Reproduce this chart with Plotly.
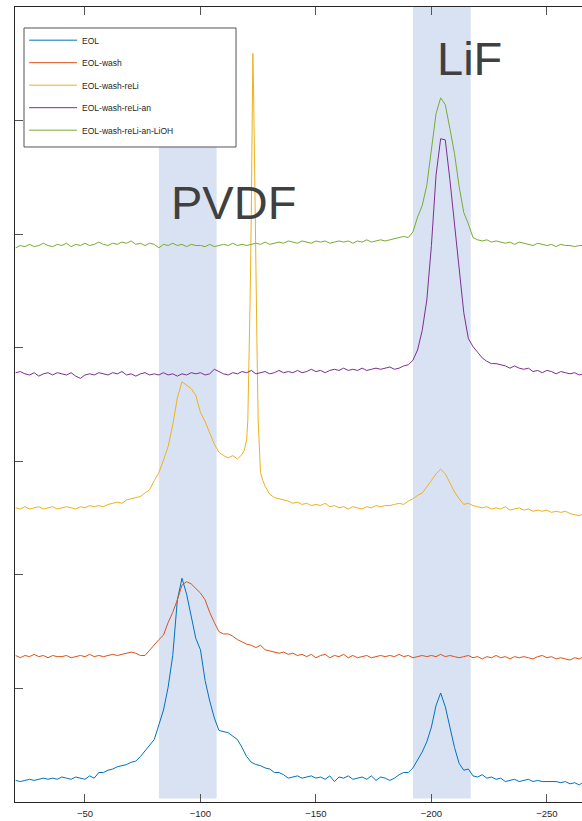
import plotly.graph_objects as go

# Chemical shift grid (ppm), step 2
X = [-20 - 2 * i for i in range(124)]

eol = [
    0.19, 0.18, 0.19, 0.20, 0.19, 0.20, 0.21, 0.20, 0.21, 0.20,
    0.22, 0.21, 0.20, 0.22, 0.21, 0.20, 0.23, 0.21, 0.26, 0.26,
    0.28, 0.29, 0.31, 0.32, 0.33, 0.35, 0.36, 0.40, 0.45, 0.50,
    0.55, 0.68, 0.81, 1.01, 1.29, 1.78, 1.97, 1.83, 1.65, 1.44,
    1.34, 1.07, 0.89, 0.74, 0.63, 0.62, 0.61, 0.58, 0.55, 0.48,
    0.40, 0.35, 0.33, 0.32, 0.30, 0.29, 0.26, 0.26, 0.24, 0.21,
    0.22, 0.23, 0.21, 0.22, 0.23, 0.21, 0.22, 0.20, 0.23, 0.18,
    0.22, 0.21, 0.23, 0.20, 0.21, 0.22, 0.20, 0.23, 0.19, 0.22,
    0.21, 0.19, 0.21, 0.24, 0.26, 0.26, 0.30, 0.37, 0.44, 0.53,
    0.66, 0.85, 0.96, 0.84, 0.66, 0.48, 0.34, 0.28, 0.29, 0.23,
    0.22, 0.24, 0.21, 0.22, 0.20, 0.21, 0.18, 0.19, 0.20, 0.18,
    0.19, 0.20, 0.18, 0.19, 0.18, 0.18, 0.18, 0.18, 0.17, 0.18,
    0.16, 0.17, 0.15, 0.18]

eol_wash = [
    1.29, 1.27, 1.29, 1.28, 1.30, 1.28, 1.29, 1.27, 1.29, 1.28,
    1.28, 1.29, 1.27, 1.28, 1.29, 1.28, 1.30, 1.28, 1.29, 1.28,
    1.29, 1.30, 1.29, 1.30, 1.31, 1.32, 1.31, 1.29, 1.29, 1.34,
    1.38, 1.43, 1.47, 1.58, 1.67, 1.78, 1.91, 1.94, 1.92, 1.88,
    1.84, 1.78, 1.67, 1.58, 1.50, 1.48, 1.48, 1.46, 1.43, 1.41,
    1.39, 1.38, 1.36, 1.38, 1.34, 1.33, 1.32, 1.31, 1.32, 1.30,
    1.31, 1.29, 1.30, 1.28, 1.30, 1.27, 1.29, 1.30, 1.27, 1.29,
    1.28, 1.30, 1.27, 1.29, 1.27, 1.28, 1.29, 1.27, 1.28, 1.29,
    1.28, 1.29, 1.28, 1.30, 1.28, 1.29, 1.27, 1.28, 1.29, 1.28,
    1.29, 1.28, 1.30, 1.28, 1.29, 1.28, 1.27, 1.28, 1.29, 1.27,
    1.28, 1.26, 1.28, 1.27, 1.29, 1.27, 1.28, 1.26, 1.28, 1.27,
    1.28, 1.27, 1.26, 1.28, 1.29, 1.27, 1.28, 1.26, 1.27, 1.26,
    1.25, 1.27, 1.26, 1.28]

# EOL-wash-reLi: grid part left of sharp peak (-20..-118), dense peak, grid part right (-130..-266)
reli_left = [
    2.59, 2.58, 2.60, 2.58, 2.59, 2.60, 2.58, 2.59, 2.60, 2.58,
    2.59, 2.60, 2.59, 2.58, 2.60, 2.59, 2.61, 2.60, 2.61, 2.60,
    2.62, 2.63, 2.64, 2.63, 2.66, 2.67, 2.68, 2.69, 2.72, 2.75,
    2.83, 2.90, 3.01, 3.13, 3.32, 3.56, 3.70, 3.67, 3.64, 3.58,
    3.43, 3.35, 3.25, 3.15, 3.08, 3.05, 3.03, 3.05, 3.02, 3.06]
reli_peak_x = [-119, -120, -120.5, -121, -121.5, -122, -122.4, -122.7, -123,
               -123.4, -124, -124.5, -125, -125.5, -126, -127, -128]
reli_peak_y = [3.10, 3.19, 3.36, 3.80, 4.42, 5.17, 5.92, 6.59, 6.27,
               5.56, 4.68, 3.98, 3.36, 3.05, 2.90, 2.83, 2.78]
reli_right = [
    2.71, 2.68, 2.67, 2.66, 2.65,
    2.63, 2.64, 2.62, 2.63, 2.61, 2.62, 2.61, 2.63, 2.60, 2.61,
    2.59, 2.60, 2.58, 2.60, 2.59, 2.58, 2.60, 2.59, 2.61, 2.60,
    2.61, 2.61, 2.62, 2.63, 2.62, 2.65, 2.67, 2.70, 2.72, 2.77,
    2.83, 2.89, 2.93, 2.89, 2.81, 2.73, 2.67, 2.62, 2.63, 2.61,
    2.60, 2.59, 2.60, 2.58, 2.59, 2.58, 2.60, 2.57, 2.58, 2.59,
    2.57, 2.58, 2.56, 2.57, 2.56, 2.57, 2.55, 2.56, 2.55, 2.56,
    2.54, 2.53, 2.52, 2.54]

reli_an = [
    3.78, 3.79, 3.77, 3.76, 3.78, 3.75, 3.77, 3.78, 3.76, 3.78,
    3.77, 3.76, 3.78, 3.75, 3.73, 3.76, 3.77, 3.76, 3.78, 3.77,
    3.76, 3.78, 3.77, 3.79, 3.76, 3.77, 3.75, 3.77, 3.78, 3.76,
    3.77, 3.76, 3.78, 3.76, 3.77, 3.75, 3.77, 3.76, 3.78, 3.77,
    3.78, 3.76, 3.77, 3.81, 3.79, 3.77, 3.76, 3.78, 3.77, 3.79,
    3.78, 3.80, 3.77, 3.78, 3.79, 3.77, 3.78, 3.80, 3.78, 3.79,
    3.78, 3.80, 3.78, 3.79, 3.81, 3.79, 3.80, 3.78, 3.80, 3.81,
    3.80, 3.82, 3.80, 3.81, 3.80, 3.82, 3.80, 3.81, 3.82, 3.81,
    3.82, 3.83, 3.81, 3.82, 3.84, 3.85, 3.89, 3.98, 4.15, 4.42,
    4.90, 5.52, 5.84, 5.83, 5.48, 5.08, 4.67, 4.31, 4.08, 4.01,
    3.96, 3.91, 3.88, 3.86, 3.86, 3.85, 3.84, 3.82, 3.84, 3.82,
    3.81, 3.82, 3.79, 3.80, 3.78, 3.80, 3.79, 3.77, 3.79, 3.78,
    3.77, 3.78, 3.76, 3.77]

reli_an_lioh = [
    4.88, 4.90, 4.89, 4.91, 4.89, 4.90, 4.92, 4.90, 4.89, 4.91,
    4.90, 4.92, 4.89, 4.91, 4.90, 4.92, 4.90, 4.91, 4.93, 4.91,
    4.90, 4.92, 4.91, 4.93, 4.92, 4.94, 4.91, 4.92, 4.90, 4.92,
    4.91, 4.88, 4.91, 4.90, 4.92, 4.90, 4.91, 4.89, 4.91, 4.90,
    4.90, 4.89, 4.91, 4.89, 4.90, 4.91, 4.90, 4.92, 4.90, 4.91,
    4.90, 4.91, 4.92, 4.91, 4.93, 4.91, 4.92, 4.93, 4.92, 4.94,
    4.93, 4.92, 4.94, 4.93, 4.92, 4.94, 4.93, 4.94, 4.92, 4.93,
    4.94, 4.93, 4.94, 4.92, 4.94, 4.93, 4.95, 4.93, 4.94, 4.95,
    4.94, 4.95, 4.96, 4.97, 4.98, 4.97, 5.02, 5.15, 5.25, 5.43,
    5.74, 6.06, 6.20, 6.14, 5.93, 5.71, 5.42, 5.19, 5.09, 4.97,
    4.95, 4.94, 4.95, 4.93, 4.94, 4.93, 4.92, 4.93, 4.91, 4.93,
    4.92, 4.91, 4.90, 4.92, 4.91, 4.90, 4.91, 4.89, 4.91, 4.90,
    4.90, 4.89, 4.90, 4.90]

names = ["EOL", "EOL-wash", "EOL-wash-reLi", "EOL-wash-reLi-an", "EOL-wash-reLi-an-LiOH"]
colors = ["#0072BD", "#D95319", "#EDB120", "#7E2F8E", "#77AC30"]

# Highlighted regions (ppm) and their labels
bands = [(-82, -107, 5.78, "PVDF", -114.1, 5.28), (-192, -217, 7, "LiF", -216.5, 6.55)]

x_reli = X[:50] + reli_peak_x + X[55:]
y_reli = reli_left + reli_peak_y + reli_right

series = [(X, eol), (X, eol_wash), (x_reli, y_reli), (X, reli_an), (X, reli_an_lioh)]

fig = go.Figure()
for i, ((xs, ys), nm, c) in enumerate(zip(series, names, colors)):
    fig.add_trace(go.Scatter(x=xs, y=ys, mode="lines", name=nm,
                             line=dict(color=c, width=1), legendgroup=str(i)))

for x0, x1, ytop, label, lx, ly in bands:
    fig.add_shape(type="rect", xref="x", yref="y", x0=x0, x1=x1, y0=0.03, y1=ytop,
                  fillcolor="#d9e2f3", line=dict(width=0), layer="below")
    fig.add_annotation(x=lx, y=ly, xref="x", yref="y", text=label, showarrow=False,
                       font=dict(family="Liberation Sans, Arial", size=47, color="#404040"))

# Legend frame (wider than the entries, as in the original)
fig.add_shape(type="rect", xref="paper", yref="paper", x0=0.0159, x1=0.3898,
              y0=0.8239, y1=0.9736, fillcolor="white",
              line=dict(color="#555555", width=1), layer="above")

fig.update_layout(
    width=582, height=821,
    margin=dict(l=15, r=0, t=7, b=19),
    paper_bgcolor="white", plot_bgcolor="white",
    font=dict(family="Liberation Sans, Arial", color="#262626"),
    showlegend=True,
    legend=dict(x=0.016, y=0.9765, xanchor="left", yanchor="top",
                bgcolor="rgba(0,0,0,0)", borderwidth=0,
                font=dict(size=8.5, color="#262626"), tracegroupgap=3.5,
                itemwidth=48),
    xaxis=dict(range=[-19.7, -265.2], tickvals=[-50, -100, -150, -200, -250],
               ticks="inside", ticklen=8, tickcolor="#555555", showline=True,
               linecolor="#262626", linewidth=1, mirror="ticks", showgrid=False,
               zeroline=False, tickfont=dict(size=9.5, color="#262626"),
               ticklabelstandoff=3),
    yaxis=dict(range=[0, 7], dtick=1, ticks="inside", ticklen=8, tickcolor="#555555",
               showticklabels=False, showline=True, linecolor="#262626", linewidth=1,
               mirror=False, showgrid=False, zeroline=False),
)

fig.write_html("out.html")
